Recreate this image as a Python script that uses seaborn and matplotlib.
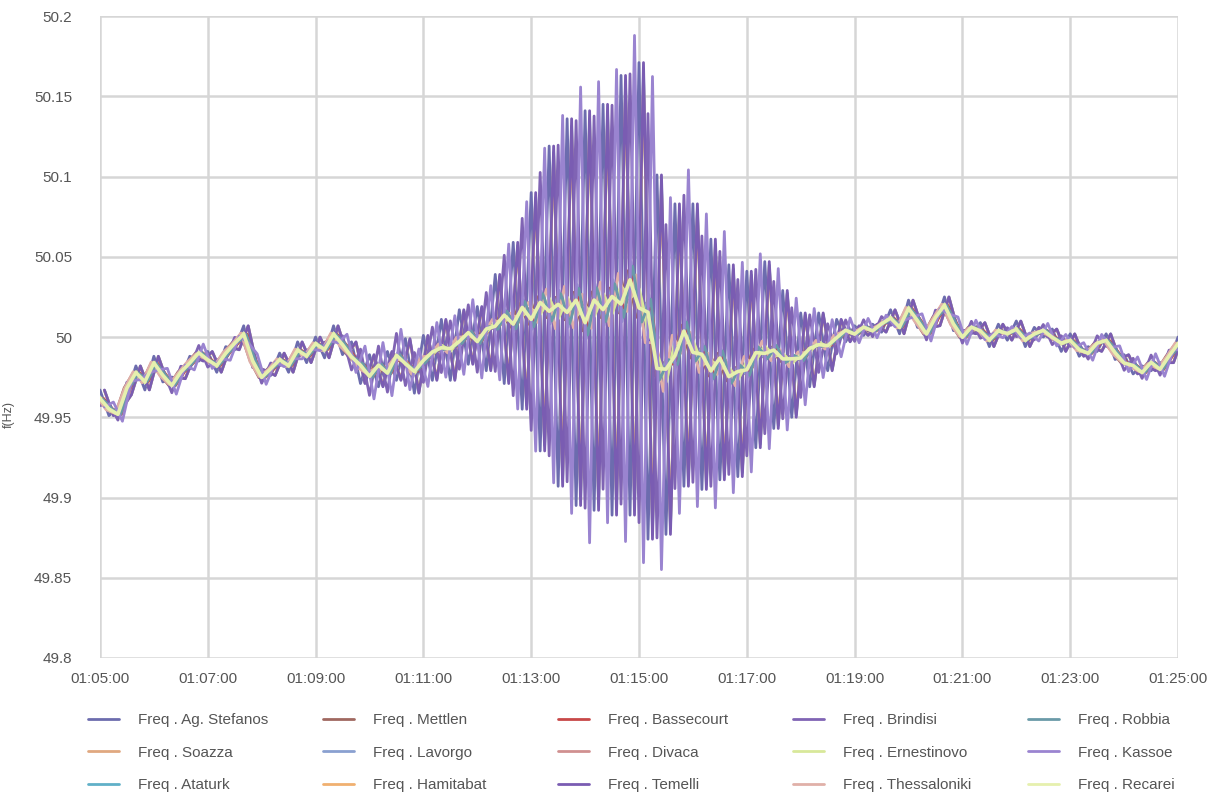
import matplotlib
matplotlib.use("Agg")
import matplotlib.pyplot as plt
import matplotlib.dates as mdates
import pandas as pd
import seaborn as sns

START = "2020-01-01 01:05:00"
STEP = "10s"

# plotting order = legend order (5 columns, filled top to bottom)
STATIONS = [
    "Ag. Stefanos", "Soazza", "Ataturk",
    "Mettlen", "Lavorgo", "Hamitabat",
    "Bassecourt", "Divaca", "Temelli",
    "Brindisi", "Ernestinovo", "Thessaloniki",
    "Robbia", "Kassoe", "Recarei",
]
COLORS = [
    "#6c6cae", "#e0a880", "#60b0c8",
    "#a06860", "#8aa0d0", "#f0b070",
    "#c84848", "#d09090", "#7a5cb2",
    "#8064b4", "#d8e89a", "#e0b0a8",
    "#6a9aa8", "#9a84d0", "#e6f0ae",
]
# share of the common swing each station follows (+ in phase, - opposite)
PARTICIPATION = [
    1.0, -0.08, 0.96,
    -0.08, -0.12, 0.94,
    -0.06, -0.05, 1.0,
    -0.95, 0.04, 0.1,
    -0.1, -1.12, -0.04,
]
# phase lag of each station's oscillation, seconds
LAG_S = [
    0, 3, 5,
    -3, 1, 5,
    4, -1, 5,
    0, 0, -3,
    3, 5, 0,
]

# common (centre) frequency, Hz, one value every 10 s
MEAN = [
    49.962, 49.955, 49.952, 49.968, 49.978, 49.972, 49.984, 49.976, 49.970, 49.978,
    49.984, 49.990, 49.986, 49.982, 49.990, 49.996, 50.002, 49.985, 49.975, 49.980,
    49.986, 49.982, 49.992, 49.988, 49.996, 49.992, 50.002, 49.995, 49.988, 49.982,
    49.976, 49.982, 49.978, 49.988, 49.984, 49.978, 49.986, 49.990, 49.994, 49.992,
    49.998, 50.002, 49.998, 50.004, 50.008, 50.012, 50.010, 50.016, 50.014, 50.018,
    50.020, 50.016, 50.020, 50.018, 50.014, 50.018, 50.022, 50.020, 50.026, 50.030,
    50.024, 50.010, 49.985, 49.976, 49.992, 50.000, 49.994, 49.986, 49.982, 49.984,
    49.978, 49.976, 49.982, 49.988, 49.992, 49.990, 49.988, 49.985, 49.988, 49.992,
    49.996, 49.994, 50.000, 50.004, 50.002, 50.006, 50.004, 50.008, 50.012, 50.006,
    50.018, 50.010, 50.002, 50.012, 50.020, 50.008, 50.000, 50.006, 50.004, 49.998,
    50.004, 50.002, 50.005, 49.998, 50.002, 50.004, 50.000, 49.996, 49.998, 49.992,
    49.990, 49.996, 49.998, 49.990, 49.984, 49.982, 49.978, 49.984, 49.980, 49.988,
    49.996,
]

# inter-area oscillation swing, Hz (signed, one value every 10 s)
SWING = [
    0.005, -0.004, 0.004, -0.004, 0.004, -0.005, 0.004, -0.004, 0.005, -0.004,
    0.004, -0.005, 0.005, -0.004, 0.004, -0.004, 0.005, -0.004, 0.004, -0.004,
    0.004, -0.004, 0.005, -0.004, 0.004, -0.005, 0.005, -0.006, 0.009, -0.011,
    0.013, -0.013, 0.013, -0.015, 0.015, -0.013, 0.015, -0.017, 0.017, -0.019,
    0.019, -0.019, 0.021, -0.025, 0.031, -0.041, 0.049, -0.061, 0.076, -0.089,
    0.099, -0.109, 0.116, -0.123, 0.127, -0.126, 0.123, -0.131, 0.137, -0.141,
    0.147, -0.136, 0.116, -0.099, 0.091, -0.093, 0.089, -0.081, 0.079, -0.073,
    0.067, -0.063, 0.059, -0.057, 0.055, -0.047, 0.041, -0.035, 0.027, -0.023,
    0.019, -0.015, 0.011, -0.007, 0.005, -0.005, 0.004, -0.005, 0.005, -0.004,
    0.005, -0.004, 0.004, -0.005, 0.005, -0.004, 0.004, -0.004, 0.005, -0.004,
    0.004, -0.004, 0.005, -0.004, 0.004, -0.004, 0.005, -0.005, 0.004, -0.004,
    0.004, -0.005, 0.004, -0.004, 0.005, -0.005, 0.004, -0.005, 0.004, -0.004,
    0.004,
]

Y_TICKS = [49.8, 49.85, 49.9, 49.95, 50.0, 50.05, 50.1, 50.15, 50.2]
Y_LABELS = ["49.8", "49.85", "49.9", "49.95", "50", "50.05", "50.1", "50.15", "50.2"]

LEG_X = [0.0722, 0.265, 0.4578, 0.6505, 0.8433]
GREY = "#555555"


def main():
    sns.set_style("whitegrid")
    plt.rcParams["font.family"] = ["Liberation Sans", "DejaVu Sans"]

    time = pd.date_range(START, periods=len(MEAN), freq=STEP)
    base = pd.DataFrame({"time": time, "mean": MEAN, "swing": SWING})

    fig = plt.figure(figsize=(12.19, 7.94), dpi=100)
    ax = fig.add_axes([0.082, 0.1713, 0.8844, 0.8085])

    for name, color, k, lag in zip(STATIONS, COLORS, PARTICIPATION, LAG_S):
        df = pd.DataFrame({
            "time": base["time"] + pd.Timedelta(seconds=lag),
            "freq": base["mean"] + k * base["swing"],
        })
        lw = 2.6 if name in ("Ernestinovo", "Recarei") else 2.0
        sns.lineplot(data=df, x="time", y="freq", ax=ax, color=color,
                     linewidth=lw, label=f"Freq . {name}", legend=False)

    ax.set_ylim(49.8, 50.2)
    ax.set_yticks(Y_TICKS)
    ax.set_yticklabels(Y_LABELS)
    ax.set_xlim(pd.Timestamp("2020-01-01 01:05:00"), pd.Timestamp("2020-01-01 01:25:00"))
    ax.xaxis.set_major_locator(mdates.MinuteLocator(byminute=range(1, 60, 2)))
    ax.xaxis.set_major_formatter(mdates.DateFormatter("%H:%M:%S"))

    ax.grid(True, color="#d6d6d6", linewidth=1.8)
    for s in ax.spines.values():
        s.set_visible(False)
    ax.tick_params(length=0, labelsize=11, labelcolor=GREY)
    ax.tick_params(axis="y", pad=20)
    ax.tick_params(axis="x", pad=10)

    ax.set_xlabel("")
    ax.set_ylabel("f(Hz)", fontsize=9, color=GREY)
    ax.yaxis.set_label_coords(-0.079, 0.38)

    handles, labels = ax.get_legend_handles_labels()
    for col in range(5):
        leg = fig.legend(handles[3 * col:3 * col + 3], labels[3 * col:3 * col + 3],
                         loc="upper left", bbox_to_anchor=(LEG_X[col], 0.1017),
                         frameon=False, fontsize=11, handlelength=2.0,
                         handletextpad=1.3, labelspacing=1.2, borderaxespad=0,
                         borderpad=0, labelcolor=GREY)
        for line in leg.get_lines():
            line.set_linewidth(2.0)

    fig.savefig("out.png", dpi=100)


if __name__ == "__main__":
    main()
